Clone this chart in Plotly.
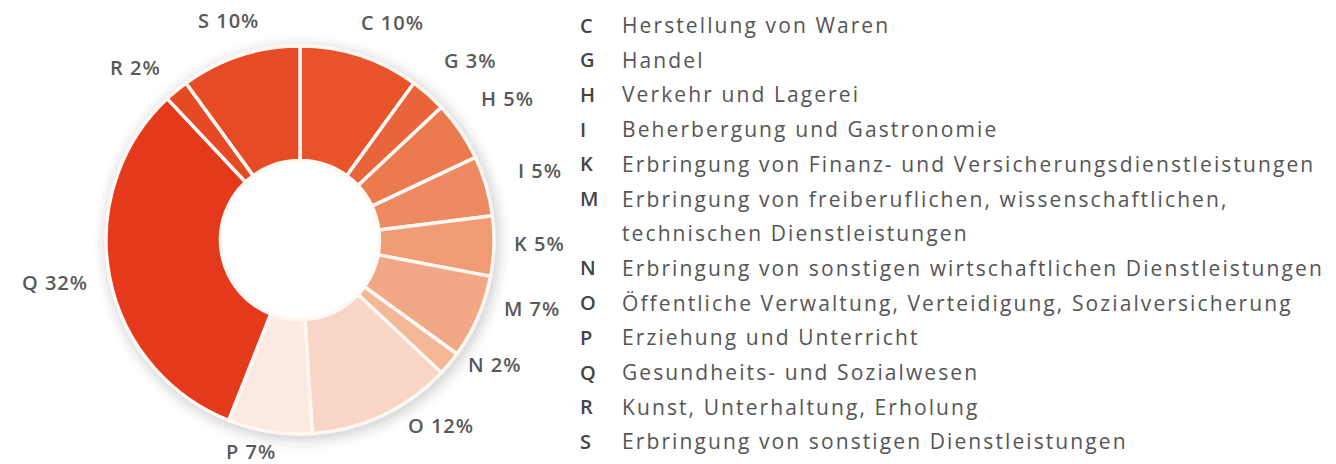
import math
import plotly.graph_objects as go

# ---- data ----
codes = ["C", "G", "H", "I", "K", "M", "N", "O", "P", "Q", "R", "S"]
shares = [10, 3, 5, 5, 5, 7, 2, 12, 7, 32, 2, 10]
colors = ["#e8532a", "#e9643a", "#ec7a4f", "#ee8a62", "#f09b74", "#f2a886",
          "#f4b797", "#f8d5c4", "#fce9e1", "#e4391b", "#e54a25", "#e64b26"]
legend_codes = ["C", "G", "H", "I", "K", "M", "", "N", "O", "P", "Q", "R", "S"]
legend_texts = [
    "Herstellung von Waren",
    "Handel",
    "Verkehr und Lagerei",
    "Beherbergung und Gastronomie",
    "Erbringung von Finanz- und Versicherungsdienstleistungen",
    "Erbringung von freiberuflichen, wissenschaftlichen,",
    "technischen Dienstleistungen",
    "Erbringung von sonstigen wirtschaftlichen Dienstleistungen",
    "Öffentliche Verwaltung, Verteidigung, Sozialversicherung",
    "Erziehung und Unterricht",
    "Gesundheits- und Sozialwesen",
    "Kunst, Unterhaltung, Erholung",
    "Erbringung von sonstigen Dienstleistungen",
]

# label placement (layout only): distance from centre in px and angular nudge in degrees
label_dist = [236, 247, 251, 250, 240, 242, 232, 233, 217, 249, 238, 231]
label_nudge = [5, 2, 0, 0, -1, -7, -7, -12, 4, 1, -4, 0]

W, H = 1336, 464
CX, CY, R = 300, 240, 194
HOLE = 0.41

def px(x):
    return x / W

def py(y):
    return 1 - y / H

fig = go.Figure()
fig.add_trace(go.Pie(
    labels=codes, values=shares, sort=False, direction="clockwise", rotation=0,
    hole=HOLE, textinfo="none", hoverinfo="label+percent",
    marker=dict(colors=colors, line=dict(color="#fff8f2", width=3.5)),
    domain=dict(x=[px(CX - R), px(CX + R)], y=[py(CY + R), py(CY - R)]),
    showlegend=False,
))

# soft shadow around the ring
shapes = []
for dr, op in [(14, 0.025), (11, 0.035), (8, 0.045), (5, 0.06), (2, 0.07)]:
    rr = R + dr
    shapes.append(dict(type="circle", xref="paper", yref="paper", layer="below",
                       x0=px(CX - rr + 2), x1=px(CX + rr + 2), y0=py(CY + rr + 3), y1=py(CY - rr + 3),
                       fillcolor=f"rgba(110,110,125,{op})", line=dict(width=0)))
rh = R * HOLE
shapes.append(dict(type="circle", xref="paper", yref="paper", layer="below",
                   x0=px(CX - rh - 4), x1=px(CX + rh + 4), y0=py(CY + rh + 4), y1=py(CY - rh - 4),
                   fillcolor="white", line=dict(width=0)))

annotations = []
total = sum(shares)
cum = 0
for c, v, d, n in zip(codes, shares, label_dist, label_nudge):
    mid = (cum + v / 2) / total * 2 * math.pi + math.radians(n)
    cum += v
    x = CX + d * math.sin(mid)
    y = CY - d * math.cos(mid)
    annotations.append(dict(text=f"<span style='letter-spacing:1px'>{c} {v}%</span>",
                            x=px(x), y=py(y), xref="paper", yref="paper",
                            showarrow=False, xanchor="center", yanchor="middle",
                            font=dict(family="Open Sans", size=20, color="#595959", weight=600)))

ROW0, ROWSTEP = 25, 34.7
for i, (c, t) in enumerate(zip(legend_codes, legend_texts)):
    y = ROW0 + i * ROWSTEP
    if c:
        annotations.append(dict(text=c, x=px(578), y=py(y), xref="paper", yref="paper",
                                showarrow=False, xanchor="left", yanchor="middle",
                                font=dict(family="Open Sans", size=20, color="#444444", weight=600)))
    annotations.append(dict(text=f"<span style='letter-spacing:2.1px'>{t}</span>",
                            x=px(620), y=py(y), xref="paper", yref="paper",
                            showarrow=False, xanchor="left", yanchor="middle",
                            font=dict(family="Open Sans", size=21, color="#555555")))

fig.update_layout(width=W, height=H, margin=dict(l=0, r=0, t=0, b=0),
                  paper_bgcolor="white", plot_bgcolor="white",
                  shapes=shapes, annotations=annotations)
fig.write_html("out.html", config={"displayModeBar": False},
               post_script="document.body.style.margin='0';")
